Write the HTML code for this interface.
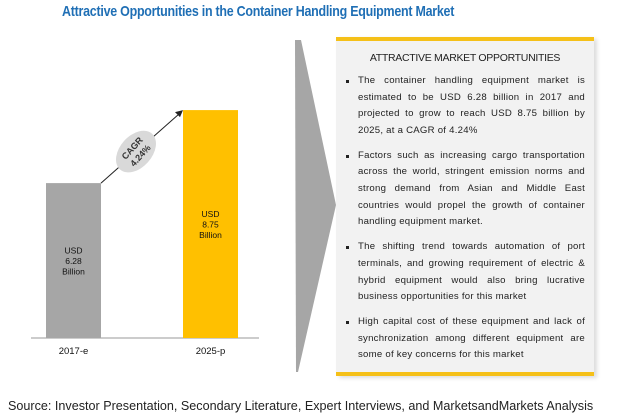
<!DOCTYPE html>
<html><head><meta charset="utf-8"><style>
body{margin:0;width:618px;height:420px;background:#fff;position:relative;overflow:hidden;font-family:"Liberation Sans",Arial,sans-serif}
#title{position:absolute;left:62px;top:3px;white-space:nowrap;font-weight:bold;font-size:15px;color:#1f6fb5;letter-spacing:-0.3px;transform-origin:0 0;transform:scaleX(0.83)}
#panel{position:absolute;left:336px;top:37px;width:258px;height:339px;background:#f2f2f2;border-top:4px solid #f5c018;border-bottom:4px solid #f5c018;box-shadow:3px 2px 4px #ddd;box-sizing:border-box}
#panel h3{margin:11px 0 9px;text-align:center;font-size:10.5px;font-weight:normal;color:#222;letter-spacing:-0.3px}
#panel ul{margin:0;padding:0 9px 0 22px;list-style:none}
#panel li{position:relative;font-size:9.6px;line-height:16.6px;text-align:justify;color:#222;margin-bottom:8.5px;letter-spacing:0.25px}
#panel li:before{content:"";position:absolute;left:-12px;top:7px;width:3px;height:3px;background:#222}
#source{position:absolute;left:8px;top:399px;font-size:12.6px;color:#222;white-space:nowrap}
</style></head><body>
<div id="title">Attractive Opportunities in the Container Handling Equipment Market</div>
<svg id="chart" width="340" height="390" style="position:absolute;left:0;top:0">
<polygon points="295,40 301,40 336,205 298,372 296,372" fill="#a6a6a6"/>
</svg>
<div id="panel">
<h3>ATTRACTIVE MARKET OPPORTUNITIES</h3>
<ul>
<li>The container handling equipment market is estimated to be USD 6.28 billion in 2017 and projected to grow to reach USD 8.75 billion by 2025, at a CAGR of 4.24%</li>
<li>Factors such as increasing cargo transportation across the world, stringent emission norms and strong demand from Asian and Middle East countries would propel the growth of container handling equipment market.</li>
<li>The shifting trend towards automation of port terminals, and growing requirement of electric &amp; hybrid equipment would also bring lucrative business opportunities for this market</li>
<li>High capital cost of these equipment and lack of synchronization among different equipment are some of key concerns for this market</li>
</ul>
</div>
<div id="source">Source: Investor Presentation, Secondary Literature, Expert Interviews, and MarketsandMarkets Analysis</div>
<script>
const categories = ["2017-e", "2025-p"];
const values = [6.28, 8.75];
const valueLabels = ["6.28", "8.75"];
const cagrLabel = "4.24%";
const colors = ["#a6a6a6", "#ffc000"];
const NS = "http://www.w3.org/2000/svg";
const svg = document.getElementById("chart");
const baseY = 338, domMin = 1.04, k = 29.56;
function yPos(v){ return baseY - (v - domMin) * k; }
function xPos(i){ return 46 + i * 137; }
const bw = 55;
function mk(tag, attrs){ const e = document.createElementNS(NS, tag); for (const a in attrs) e.setAttribute(a, attrs[a]); svg.appendChild(e); return e; }
const axis = mk("line", {x1:31, x2:259, y1:baseY, y2:baseY, stroke:"#999", "stroke-width":1});


values.forEach((v, i) => {
  const r = mk("rect", {x:xPos(i), y:yPos(v), width:bw, height:baseY - yPos(v), fill:colors[i]});
  
  
  const cx = xPos(i) + bw/2, cy = (yPos(v) + baseY)/2;
  ["USD", valueLabels[i], "Billion"].forEach((t, j) => {
    const tx = mk("text", {x:cx, y:cy - 7 + j*10.5, "text-anchor":"middle", "font-size":"8.5", fill:"#111"});
    tx.textContent = t;
    
    
  });
  const lab = mk("text", {x:cx, y:354, "text-anchor":"middle", "font-size":"9.5", fill:"#111"});
  lab.textContent = categories[i];
  
  
});
const x1 = xPos(0) + bw, y1 = yPos(values[0]), x2 = xPos(1), y2 = yPos(values[1]);
const ln = mk("line", {x1:x1, y1:y1, x2:x2 - 3, y2:y2 + 3, stroke:"#222", "stroke-width":1});


const head = mk("polygon", {points:`${x2},${y2} ${x2-8},${y2+2} ${x2-3},${y2+7}`, fill:"#222"});


const mx = (x1 + x2)/2 - 6, my = (y1 + y2)/2 + 5;
const g = mk("g", {transform:`translate(${mx},${my}) rotate(-48)`});


const el = document.createElementNS(NS, "ellipse");
el.setAttribute("rx", 24); el.setAttribute("ry", 16); el.setAttribute("fill", "#d9d9d9");
g.appendChild(el);
["CAGR", cagrLabel].forEach((t, j) => {
  const tx = document.createElementNS(NS, "text");
  tx.setAttribute("y", -2 + j*11); tx.setAttribute("text-anchor", "middle");
  tx.setAttribute("font-size", "9"); tx.setAttribute("font-weight", "bold"); tx.setAttribute("fill", "#333");
  tx.textContent = t;
  
  
  g.appendChild(tx);
});
</script>
</body></html>
